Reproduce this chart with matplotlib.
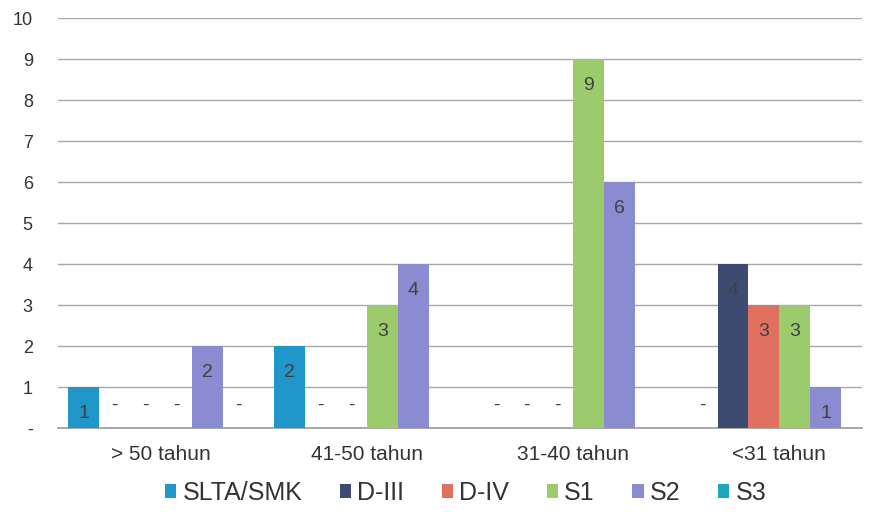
import numpy as np
import matplotlib.pyplot as plt

plt.rcParams['font.family'] = ['Liberation Sans', 'DejaVu Sans']

groups = ['> 50 tahun', '41-50 tahun', '31-40 tahun', '<31 tahun']
series = ['SLTA/SMK', 'D-III', 'D-IV', 'S1', 'S2', 'S3']
# nan = kosong (tanpa label), 0 = ditampilkan sebagai "-"
values = {
    'SLTA/SMK': [1, 2, 0, 0],
    'D-III':    [0, 0, 0, 4],
    'D-IV':     [0, 0, 0, 3],
    'S1':       [0, 3, 9, 3],
    'S2':       [2, 4, 6, 1],
    'S3':       [0, np.nan, np.nan, np.nan],
}
colors = ['#2196c8', '#3e4b70', '#e0705f', '#9ccb6e', '#8a8bd0', '#1fa6be']
yticks = list(range(0, 11))
ytick_labels = ['-'] + [str(v) for v in yticks[1:]]

fig = plt.figure(figsize=(8.75, 5.17), dpi=100)
ax = fig.add_axes((0.066, 0.172, 0.919, 0.793))

x = np.arange(len(groups))
w = 0.15
for i, name in enumerate(series):
    vals = np.array(values[name], dtype=float)
    pos = x + (i - 2.5) * w
    ax.bar(pos, np.nan_to_num(vals), width=w, color=colors[i], label=name, zorder=3)
    for p, v in zip(pos, vals):
        if np.isnan(v):
            continue
        if v == 0:
            ax.text(p, 0.55, '-', ha='center', va='center', fontsize=14, color='#404040', zorder=4)
        else:
            ax.text(p, v - 0.65, str(int(v)), ha='center', va='center', fontsize=14,
                    color='#404040', zorder=4)

ax.set_xlim(-0.5, 3.4)
ax.set_ylim(0, 10)
ax.set_yticks(yticks)
ax.set_yticklabels(ytick_labels)
ax.set_xticks(x)
ax.set_xticklabels(groups)
ax.tick_params(axis='both', length=0, colors='#333333')
ax.tick_params(axis='x', pad=12, labelsize=15)
ax.tick_params(axis='y', pad=18, labelsize=13)
ax.grid(axis='y', color='#a8a8a8', linewidth=1.0, zorder=0)
for s in ['top', 'right', 'left']:
    ax.spines[s].set_visible(False)
ax.spines['bottom'].set_color('#999999')
ax.spines['bottom'].set_linewidth(1.2)

fig.legend(loc='lower center', bbox_to_anchor=(0.532, -0.02), ncol=6, frameon=False,
           fontsize=18, handlelength=0.45, handleheight=0.45, handletextpad=0.25,
           columnspacing=1.5, labelcolor='#333333')

fig.savefig('out.png', dpi=100)
